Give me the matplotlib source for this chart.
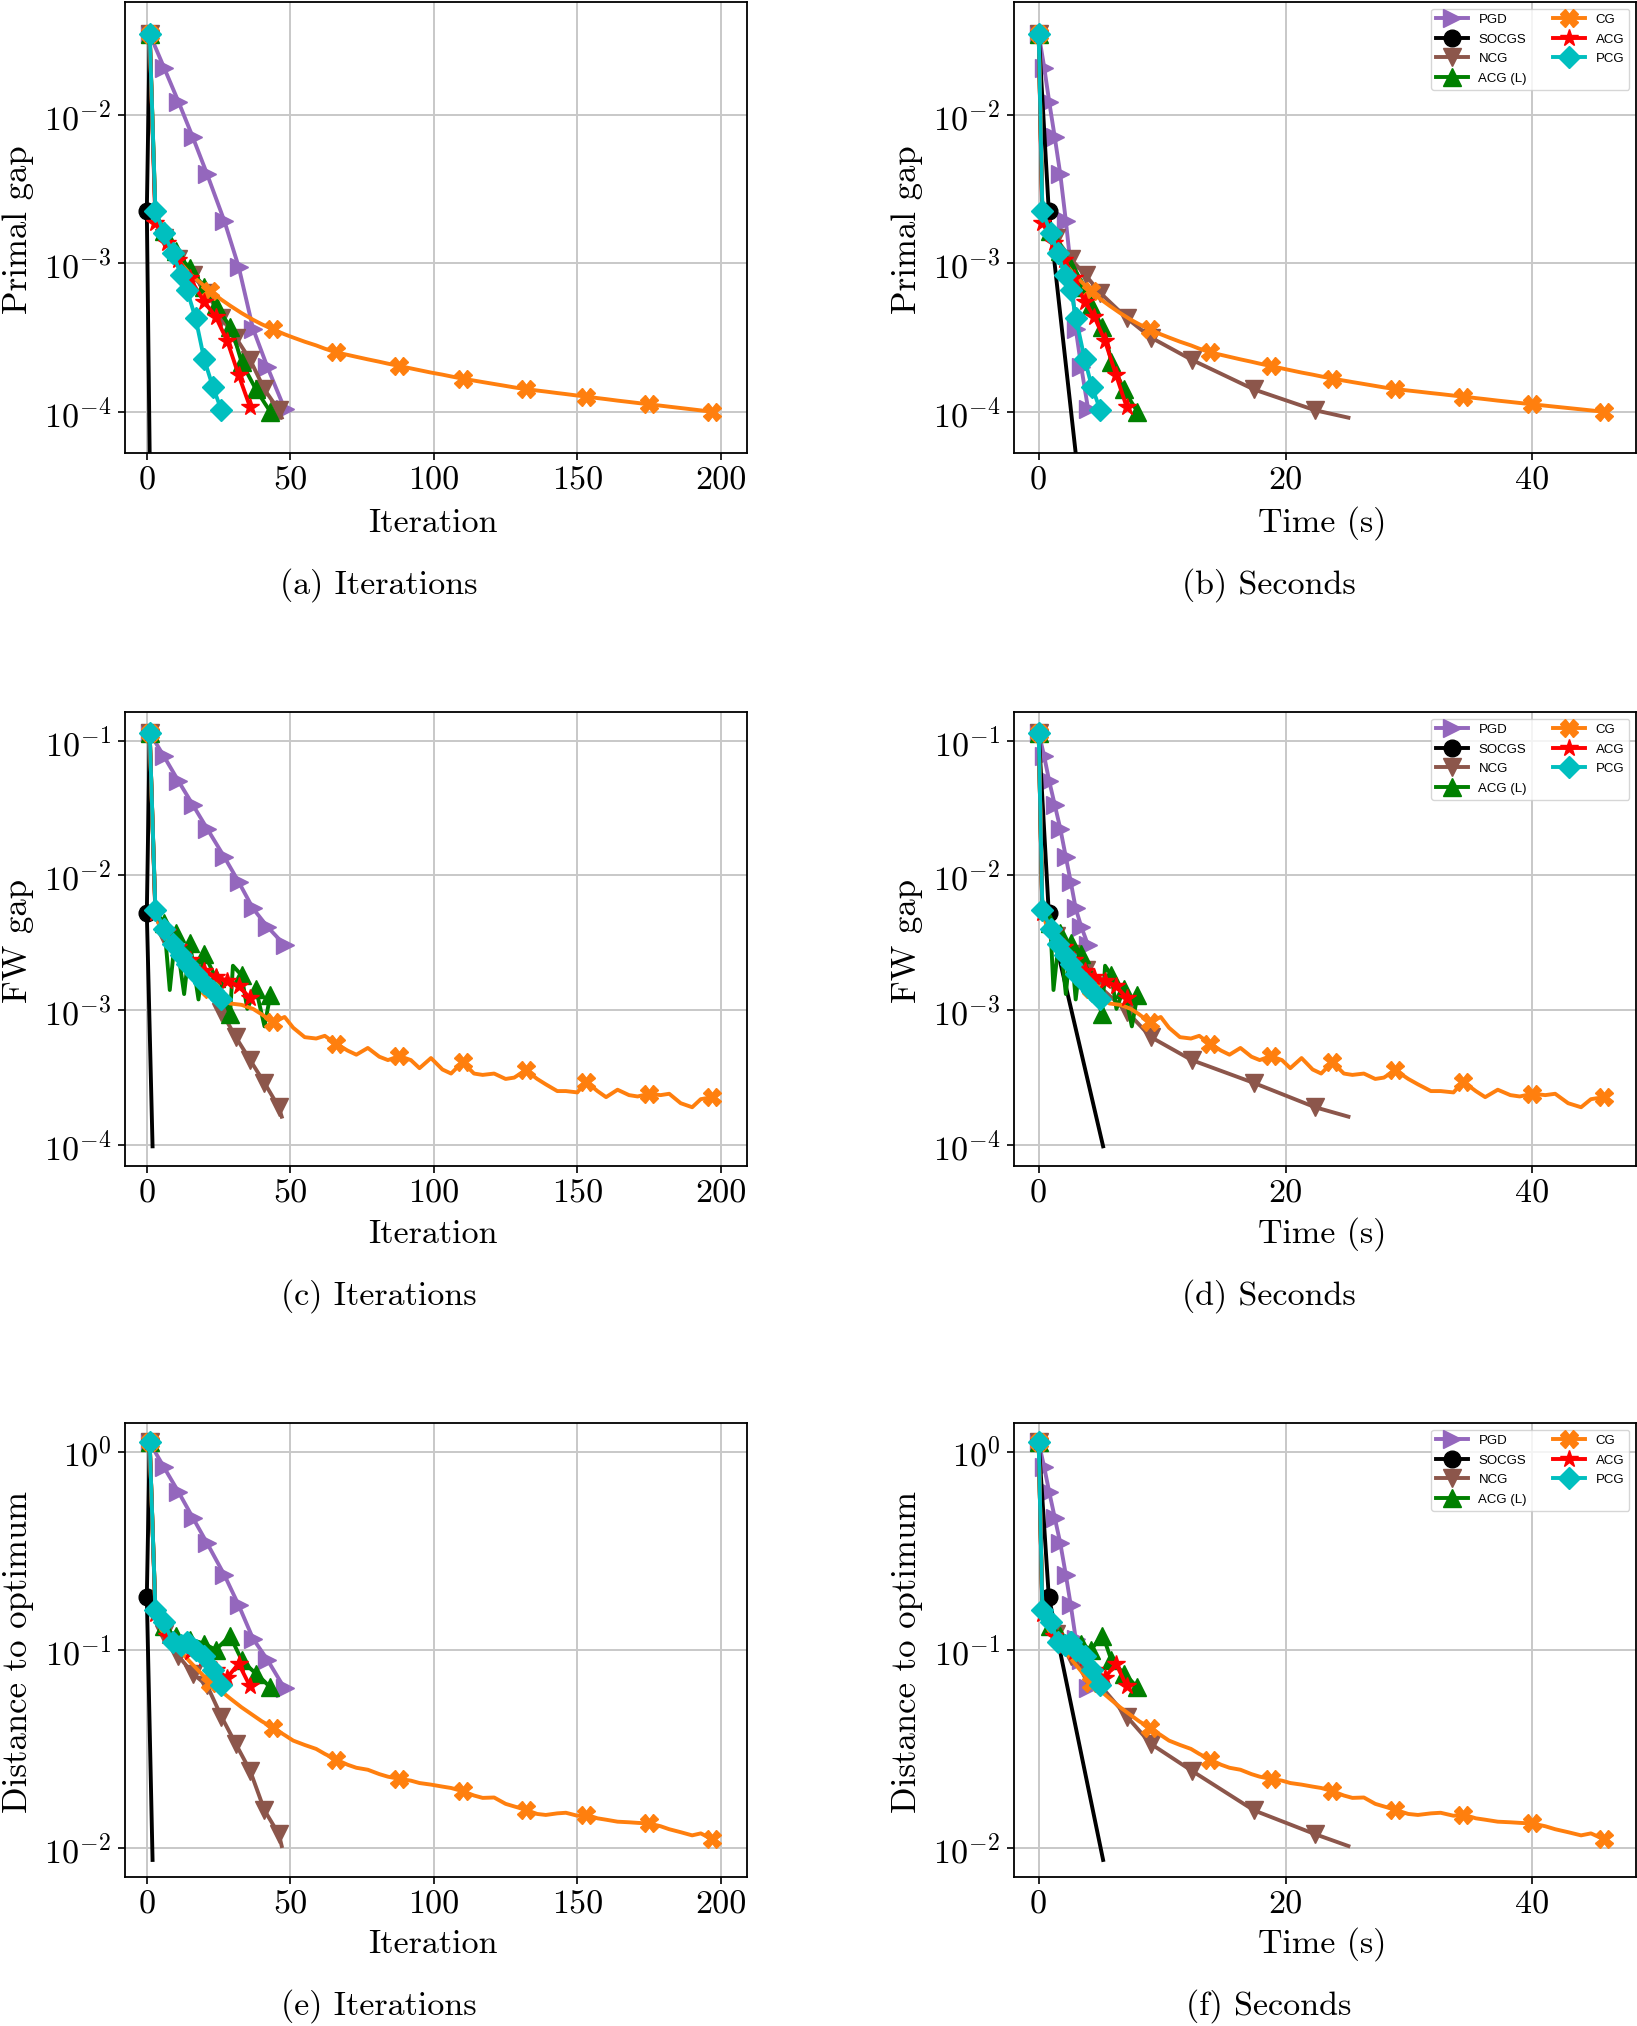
import numpy as np
import matplotlib
matplotlib.use("Agg")
import matplotlib.pyplot as plt
from matplotlib.ticker import FixedLocator, FuncFormatter, NullLocator

plt.rcParams["font.family"] = "cmr10"
plt.rcParams["mathtext.fontset"] = "cm"
plt.rcParams["axes.unicode_minus"] = False
plt.rcParams["axes.formatter.use_mathtext"] = True

# ---------------------------------------------------------------
# Data. Gap / distance values are stored as
# log10 of the value.
# ---------------------------------------------------------------

# PGD
pgd_iter = [1, 6, 11, 16, 21, 27, 32, 37, 42, 48]
pgd_time = [0.0, 0.45, 0.85, 1.3, 1.75, 2.2, 2.6, 3.0, 3.45, 4.0]
pgd_primal_log10 = [-1.454, -1.681, -1.91, -2.149, -2.399, -2.714, -3.023, -3.44, -3.698, -3.98]
pgd_fw_log10 = [-0.941, -1.117, -1.299, -1.475, -1.652, -1.863, -2.048, -2.245, -2.38, -2.517]
pgd_dist_log10 = [0.046, -0.080, -0.203, -0.333, -0.462, -0.622, -0.775, -0.944, -1.05, -1.195]
pgd_marks = [0, 1, 2, 3, 4, 5, 6, 7, 8, 9]

# SOCGS
socgs_iter = [1, 0, 2]
socgs_time = [0.0, 0.82, 5.22]
socgs_primal_log10 = [-1.454, -2.649, -5.94]
socgs_fw_log10 = [-0.941, -2.28, -4.01]
socgs_dist_log10 = [0.046, -0.732, -2.06]
socgs_marks = [0, 1]

# NCG
ncg_iter = [1, 3, 6, 11, 16, 21, 26, 31, 36, 41, 46, 47]
ncg_time = [0.0, 0.3, 1.4, 2.6, 3.8, 5.0, 7.15, 9.1, 12.4, 17.45, 22.4, 25.1]
ncg_primal_log10 = [-1.454, -2.68, -2.83, -2.97, -3.08, -3.2, -3.37, -3.50, -3.65, -3.85, -3.99, -4.04]
ncg_fw_log10 = [-0.941, -2.3, -2.45, -2.58, -2.7, -2.83, -3.01, -3.2, -3.37, -3.54, -3.72, -3.79]
ncg_dist_log10 = [0.046, -0.80, -0.92, -1.03, -1.12, -1.18, -1.337, -1.475, -1.61, -1.81, -1.93, -1.99]
ncg_marks = [0, 2, 3, 4, 5, 6, 7, 8, 9, 10]

# ACG (L)
acgl_iter = [1, 3, 6, 8, 10, 13, 15, 18, 20, 24, 29, 30, 33, 35, 38, 41, 43]
acgl_time = [0.0, 0.3, 0.94, 1.2, 1.69, 2.2, 2.6, 3.0, 3.43, 4.24, 5.13, 5.38, 5.88, 6.3, 6.9, 7.55, 8.0]
acgl_primal_log10 = [-1.454, -2.66, -2.78, -2.85, -2.92, -2.99, -3.034, -3.11, -3.158, -3.281,
                     -3.427, -3.47, -3.663, -3.74, -3.849, -3.94, -3.999]
acgl_fw_log10 = [-0.941, -2.27, -2.35, -2.85, -2.43, -2.88, -2.50, -2.92, -2.58, -2.76,
                 -3.03, -2.67, -2.74, -2.99, -2.84, -3.12, -2.89]
acgl_dist_log10 = [0.046, -0.80, -0.88, -0.91, -0.93, -0.94, -0.95, -0.96, -0.97, -1.0,
                   -0.93, -0.96, -1.05, -1.08, -1.12, -1.16, -1.19]
acgl_marks = [0, 2, 4, 6, 8, 9, 10, 12, 14, 16]

# CG
cg_iter = [1, 3, 5, 10, 15, 22, 26, 29, 33, 37, 40, 44, 48, 51, 55, 59, 62, 66,
           70, 73, 77, 81, 84, 88, 92, 95, 99, 103, 106, 110, 114, 117, 121, 125, 128, 132,
           136, 139, 143, 146, 150, 153, 157, 160, 164, 168, 171, 175, 179, 182, 186, 190, 193, 197]
cg_time = [0.0, 0.3, 0.8, 1.8, 2.8, 4.2, 5.07, 5.73, 6.6, 7.47, 8.13, 9.0, 9.89, 10.56, 11.45, 12.34, 13.01, 13.9,
           14.79, 15.46, 16.35, 17.24, 17.91, 18.8, 19.71, 20.39, 21.3, 22.2, 22.89, 23.8,
           24.73, 25.42, 26.35, 27.27, 27.97, 28.9, 29.95, 30.73, 31.78, 32.57, 33.61, 34.4,
           35.42, 36.18, 37.2, 38.22, 38.98, 40.0, 41.05, 41.85, 42.9, 43.95, 44.75, 45.8]
cg_primal_log10 = [-1.454, -2.66, -2.8, -2.96, -3.07, -3.185, -3.245, -3.285, -3.335, -3.38, -3.41, -3.445,
                   -3.478, -3.50, -3.528, -3.553, -3.575, -3.60, -3.617, -3.63, -3.647, -3.663, -3.676, -3.692,
                   -3.708, -3.72, -3.736, -3.75, -3.762, -3.777, -3.79, -3.80, -3.813, -3.826, -3.836, -3.847,
                   -3.857, -3.864, -3.874, -3.881, -3.891, -3.898, -3.908, -3.915, -3.925, -3.934, -3.941, -3.95,
                   -3.959, -3.966, -3.975, -3.984, -3.991, -4.0]
cg_fw_log10 = [-0.941, -2.27, -2.42, -2.55, -2.66, -2.84, -2.91, -2.95, -2.96, -2.99, -3.03, -3.09,
               -3.05, -3.13, -3.2, -3.21, -3.19, -3.25, -3.30, -3.33, -3.28, -3.345, -3.37, -3.34,
               -3.37, -3.43, -3.355, -3.44, -3.47, -3.385, -3.47, -3.48, -3.47, -3.51, -3.5, -3.445,
               -3.51, -3.55, -3.6, -3.6, -3.61, -3.53, -3.6, -3.645, -3.59, -3.63, -3.64, -3.62,
               -3.63, -3.62, -3.69, -3.72, -3.66, -3.645]
cg_dist_log10 = [0.046, -0.80, -0.9, -0.98, -1.06, -1.165, -1.21, -1.245, -1.29, -1.33, -1.36, -1.394,
                 -1.43, -1.458, -1.48, -1.50, -1.525, -1.554, -1.58, -1.595, -1.605, -1.627, -1.64, -1.651,
                 -1.66, -1.672, -1.68, -1.69, -1.697, -1.713, -1.735, -1.747, -1.745, -1.777, -1.79, -1.807,
                 -1.828, -1.833, -1.825, -1.822, -1.837, -1.831, -1.85, -1.857, -1.867, -1.87, -1.873, -1.876,
                 -1.89, -1.905, -1.92, -1.936, -1.926, -1.956]
cg_marks = [0, 5, 11, 17, 23, 29, 35, 41, 47, 53]

# ACG
acg_iter = [1, 3, 7, 11, 15, 20, 24, 28, 32, 36]
acg_time = [0.0, 0.3, 1.25, 2.05, 2.85, 3.73, 4.51, 5.37, 6.27, 7.14]
acg_primal_log10 = [-1.454, -2.73, -2.86, -2.98, -3.1, -3.259, -3.36, -3.522, -3.753, -3.97]
acg_fw_log10 = [-0.941, -2.28, -2.42, -2.53, -2.63, -2.71, -2.75, -2.78, -2.82, -2.91]
acg_dist_log10 = [0.046, -0.82, -0.93, -0.98, -1.01, -1.04, -1.10, -1.14, -1.07, -1.185]
acg_marks = [0, 1, 2, 3, 4, 5, 6, 7, 8, 9]

# PCG
pcg_iter = [1, 3, 6, 9, 12, 14, 17, 20, 23, 26]
pcg_time = [0.0, 0.3, 0.98, 1.57, 2.1, 2.63, 3.02, 3.73, 4.31, 5.0]
pcg_primal_log10 = [-1.454, -2.646, -2.798, -2.933, -3.079, -3.18, -3.371, -3.647, -3.832, -3.989]
pcg_fw_log10 = [-0.941, -2.253, -2.4, -2.51, -2.59, -2.66, -2.73, -2.8, -2.86, -2.92]
pcg_dist_log10 = [0.046, -0.80, -0.86, -0.96, -0.975, -0.96, -1.0, -1.03, -1.1, -1.18]
pcg_marks = [0, 1, 2, 3, 4, 5, 6, 7, 8, 9]

labels = ["PGD", "SOCGS", "NCG", "ACG (L)", "CG", "ACG", "PCG"]
colors = ["#9467bd", "black", "#8c564b", "green", "#ff7f0e", "red", "#00bfbf"]
markers = [">", "o", "v", "^", "X", "*", "D"]
msizes = [12.5, 12.0, 12.5, 12.5, 12.5, 13.0, 11.5]

series = [
    (pgd_iter, pgd_time, pgd_primal_log10, pgd_fw_log10, pgd_dist_log10, pgd_marks),
    (socgs_iter, socgs_time, socgs_primal_log10, socgs_fw_log10, socgs_dist_log10, socgs_marks),
    (ncg_iter, ncg_time, ncg_primal_log10, ncg_fw_log10, ncg_dist_log10, ncg_marks),
    (acgl_iter, acgl_time, acgl_primal_log10, acgl_fw_log10, acgl_dist_log10, acgl_marks),
    (cg_iter, cg_time, cg_primal_log10, cg_fw_log10, cg_dist_log10, cg_marks),
    (acg_iter, acg_time, acg_primal_log10, acg_fw_log10, acg_dist_log10, acg_marks),
    (pcg_iter, pcg_time, pcg_primal_log10, pcg_fw_log10, pcg_dist_log10, pcg_marks),
]

ylabels = ["Primal gap", "FW gap", "Distance to optimum"]
xlabels = ["Iteration", "Time (s)"]
captions = [["(a) Iterations", "(b) Seconds"],
            ["(c) Iterations", "(d) Seconds"],
            ["(e) Iterations", "(f) Seconds"]]
x_ticks = [[0, 50, 100, 150, 200], [0, 20, 40]]
y_decades = [[-4, -3, -2], [-4, -3, -2, -1], [-2, -1, 0]]

# ---------------------------------------------------------------
# Layout (pixel geometry of the page)
# ---------------------------------------------------------------
W, H = 1637, 2026
fig = plt.figure(figsize=(W / 100, H / 100), dpi=100)

COL_X = [(125, 747), (1014, 1636)]
ROW_Y = [(2, 453), (712, 1166), (1423, 1877)]
YLIM_LOG = [(-4.278, -1.239), (-4.156, -0.787), (-2.146, 0.144)]
XLIMS = [(-7.6, 209.1), (-2.0, 48.4)]
YLABEL_X = [18, 907]
XLABEL_Y = [523, 1234, 1944]
CAPTION_X = [379, 1269]
CAPTION_Y = [585, 1296, 2006]

FS = 24.5


def fmt_pow(v, pos):
    return r"$10^{%d}$" % int(round(np.log10(v)))


for r in range(3):
    for c in range(2):
        x0, x1 = COL_X[c]
        y0, y1 = ROW_Y[r]
        ax = fig.add_axes([x0 / W, 1 - y1 / H, (x1 - x0) / W, (y1 - y0) / H])
        for k, (it, tm, pr, fw, di, mk) in enumerate(series):
            yv = np.power(10.0, [pr, fw, di][r])
            xv = it if c == 0 else tm
            ax.plot(xv, yv, color=colors[k], marker=markers[k], markersize=msizes[k],
                    markevery=mk, lw=2.8, label=labels[k])
        ax.set_yscale("log")
        lo, hi = YLIM_LOG[r]
        ax.set_ylim(10 ** lo, 10 ** hi)
        ax.set_xlim(*XLIMS[c])
        ax.yaxis.set_major_locator(FixedLocator([10.0 ** d for d in y_decades[r]]))
        ax.yaxis.set_major_formatter(FuncFormatter(fmt_pow))
        ax.yaxis.set_minor_locator(NullLocator())
        ax.set_xticks(x_ticks[c])
        ax.set_xticklabels([str(t) for t in x_ticks[c]])
        ax.tick_params(labelsize=FS, length=5, width=1.2, pad=5)
        ax.grid(True, color="#c8c8c8", lw=1.4)
        ax.set_axisbelow(True)
        for s in ax.spines.values():
            s.set_linewidth(1.3)
        ax.set_ylabel(ylabels[r], fontsize=FS + 0.5, va="center")
        ax.yaxis.set_label_coords(YLABEL_X[c] / W, 1 - ((y0 + y1) / 2 + 2) / H, transform=fig.transFigure)
        ax.set_xlabel(xlabels[c], fontsize=FS, va="center")
        ax.xaxis.set_label_coords(((x0 + x1) / 2 - 3) / W, 1 - XLABEL_Y[r] / H, transform=fig.transFigure)
        if c == 1:
            ax.legend(loc="upper right", ncol=2, prop={"family": "Liberation Sans", "size": 9.5},
                      handlelength=2.4, labelspacing=0.55, columnspacing=2.0, handletextpad=0.8)
        fig.text(CAPTION_X[c] / W, 1 - CAPTION_Y[r] / H, captions[r][c], ha="center", va="center",
                 fontsize=FS)

fig.savefig("out.png", dpi=100)
